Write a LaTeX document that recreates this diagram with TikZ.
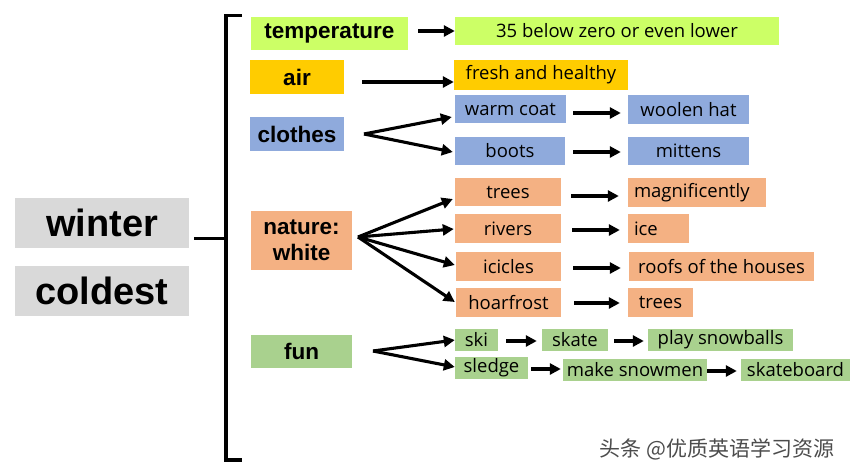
\documentclass[tikz,border=0pt]{standalone}
\usepackage{fontspec}
\setmainfont{Open Sans}
\newfontfamily\bfam{Liberation Sans}
\newfontfamily\cjk{Noto Sans CJK SC}
\usetikzlibrary{arrows.meta,calc}
\definecolor{cgray}{HTML}{D9D9D9}
\definecolor{cyel}{HTML}{CCFF66}
\definecolor{cgold}{HTML}{FFCC00}
\definecolor{cblue}{HTML}{8FAADC}
\definecolor{corange}{HTML}{F4B183}
\definecolor{cgreen}{HTML}{A9D18E}
\begin{document}
\begin{tikzpicture}[x=1pt,y=-1pt,
  arr/.style={line width=3.1pt,-{Triangle[length=11pt,width=11pt]}},
  bk/.style={line width=3.5pt},
  box/.style={inner sep=0pt,anchor=center,text=black},
  mainbox/.style={box,fill=cgray,font=\bfam\bfseries\fontsize{38}{40}\selectfont},
  catbox/.style={box,font=\bfam\bfseries\fontsize{22.5}{26}\selectfont,align=center},
  itembox/.style={box,font=\fontsize{18.5}{20}\selectfont},
  funbox/.style={box,fill=cgreen,font=\fontsize{18.5}{20}\selectfont},
  lft/.style={align=left,inner xsep=6pt}]
\useasboundingbox (0,0) rectangle (852,474);
% left
\node[mainbox,minimum width=174pt,minimum height=50pt] (winter) at (102,223) {winter};
\node[mainbox,minimum width=174pt,minimum height=50pt] (coldest) at (102,291) {coldest};
% categories
\node[catbox,fill=cyel,minimum width=157pt,minimum height=33pt] (temp) at (329.5,33.5) {temperature};
\node[catbox,fill=cgold,minimum width=94pt,minimum height=34pt] (air) at (297,77) {air};
\node[catbox,fill=cblue,minimum width=94pt,minimum height=34pt] (clothes) at (297,134) {clothes};
\node[catbox,fill=corange,minimum width=101pt,minimum height=59pt] (nature) at (301.5,240.5) {nature:\\white};
\node[catbox,fill=cgreen,minimum width=101pt,minimum height=33pt] (fun) at (301.5,351.5) {fun};
% items
\node[itembox,fill=cyel,minimum width=324pt,minimum height=28pt] (t35) at (617,31) {35 below zero or even lower};
\node[itembox,fill=cgold,minimum width=174pt,minimum height=30pt] (fresh) at (541,75) {fresh and healthy};
\node[itembox,fill=cblue,minimum width=111pt,minimum height=28pt] (warm) at (510.5,109) {warm coat};
\node[itembox,fill=cblue,minimum width=121pt,minimum height=29pt] (wool) at (688.5,109.5) {woolen hat};
\node[itembox,fill=cblue,minimum width=110pt,minimum height=28pt] (boots) at (510,151) {boots};
\node[itembox,fill=cblue,minimum width=121pt,minimum height=28pt] (mitt) at (688.5,151) {mittens};
\node[itembox,fill=corange,minimum width=106pt,minimum height=28pt] (trees) at (508,192) {trees};
\node[itembox,fill=corange,lft,text width=126pt,minimum height=29pt] (magn) at (697,192.5) {magnificently};
\node[itembox,fill=corange,minimum width=106pt,minimum height=29pt] (rivers) at (508,228.5) {rivers};
\node[itembox,fill=corange,lft,text width=49pt,minimum height=29pt] (ice) at (658.5,228.5) {ice};
\node[itembox,fill=corange,minimum width=105pt,minimum height=29pt] (icicles) at (508.5,266.5) {icicles};
\node[itembox,fill=corange,minimum width=185pt,minimum height=29pt] (roofs) at (721.5,266.5) {roofs of the houses};
\node[itembox,fill=corange,minimum width=105pt,minimum height=29pt] (hoar) at (508.5,302.5) {hoarfrost};
\node[itembox,fill=corange,minimum width=65pt,minimum height=29pt] (trees2) at (660.5,302.5) {trees};
\node[funbox,minimum width=43pt,minimum height=22pt] (ski) at (476.5,340) {ski};
\node[funbox,minimum width=66pt,minimum height=22pt] (skate) at (575,340) {skate};
\node[funbox,minimum width=145pt,minimum height=22pt] (play) at (720.5,340) {play snowballs};
\node[funbox,minimum width=73pt,minimum height=22pt] (sledge) at (491.5,368) {sledge};
\node[funbox,minimum width=144pt,minimum height=22pt] (make) at (635,370) {make snowmen};
\node[funbox,minimum width=109pt,minimum height=22pt] (board) at (795.5,370) {skateboard};
% watermark
\node[inner sep=0pt,text=black!70,font=\cjk\fontsize{21}{23}\selectfont] (wm) at (717,449) {头条 @优质英语学习资源};
% bracket
\coordinate (bt) at (242,15.5);
\coordinate (bv1) at (226,15.5);
\coordinate (bv2) at (226,460);
\coordinate (bb) at (242,460);
\coordinate (wj) at (226,238.5);
\draw[bk] (bt) -- (bv1) -- (bv2) -- (bb);
\draw[bk] ($(winter.east)+(5,15.5)$) -- (wj);
% arrows
\draw[arr,shorten <=10pt] (temp.east |- t35.west) -- (t35.west);
\draw[arr] ($(air.east)+(18,5)$) -- ($(fresh.west)+(0,7)$);
\coordinate (cf) at (364,134);
\draw[arr] (cf) -- ($(warm.west)+(-3,8)$);
\draw[arr] (cf) -- ($(boots.west)+(-2,1)$);
\draw[arr] ($(warm.east)+(7,4)$) -- ($(wool.west)+(-7,3.5)$);
\draw[arr] ($(boots.east)+(8,1)$) -- ($(mitt.west)+(-7,1)$);
\coordinate (nf) at (358,237);
\draw[arr] (nf) -- ($(trees.west)+(-2,7)$);
\draw[arr] (nf) -- ($(rivers.west)+(-1,0.5)$);
\draw[arr] (nf) -- ($(icicles.west)+(-1,-1.5)$);
\draw[arr] (nf) -- ($(hoar.west)+(-1,-0.5)$);
\draw[arr] ($(trees.east)+(10,4)$) -- ($(magn.west)+(-9,3.5)$);
\draw[arr] ($(rivers.east)+(11,1.5)$) -- ($(ice.west)+(-8,1.5)$);
\draw[arr] ($(icicles.east)+(12,1.5)$) -- ($(roofs.west)+(-8,1.5)$);
\draw[arr] ($(hoar.east)+(13,0.5)$) -- ($(trees2.west)+(-8,0.5)$);
\coordinate (ff) at (373,351);
\draw[arr] (ff) -- ($(ski.west)+(0,0)$);
\draw[arr] (ff) -- ($(sledge.west)+(0,-1)$);
\draw[arr] ($(ski.east)+(8,1)$) -- ($(skate.west)+(-5,1)$);
\draw[arr] ($(skate.east)+(6,1)$) -- ($(play.west)+(-4,1)$);
\draw[arr] ($(sledge.east)+(3,1)$) -- ($(make.west)+(-2,-1)$);
\draw[arr] ($(make.east)+(0,1)$) -- ($(board.west)+(-4,1)$);
\end{tikzpicture}
\end{document}
